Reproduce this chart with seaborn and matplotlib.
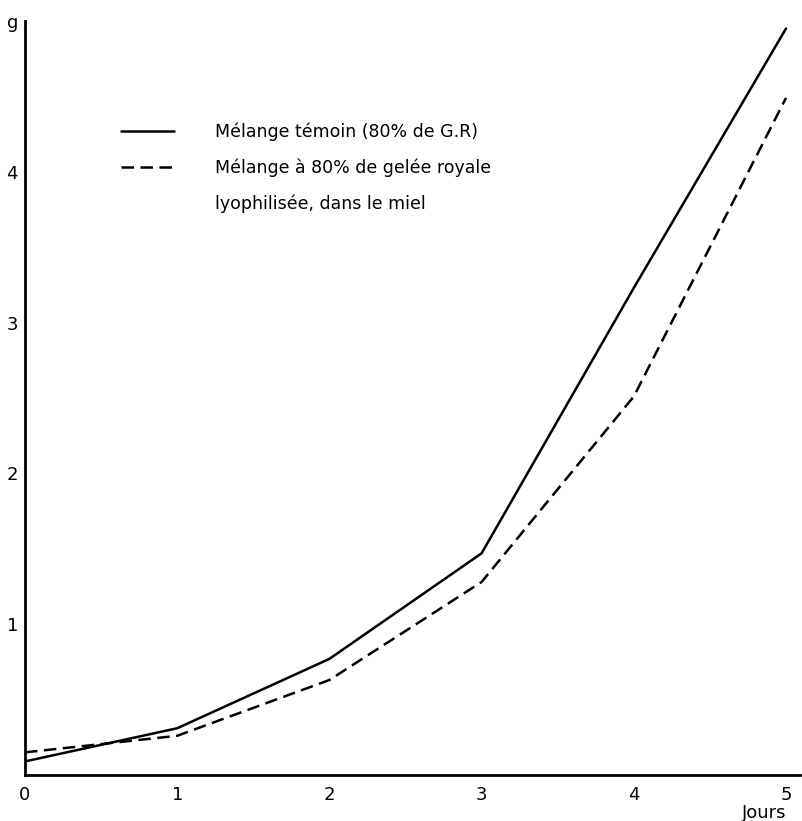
import matplotlib
matplotlib.use("Agg")
import matplotlib.pyplot as plt
from matplotlib.lines import Line2D
import seaborn as sns
import pandas as pd

# Data
jours = [0, 1, 2, 3, 4, 5]
temoin = [0.09, 0.31, 0.77, 1.47, 3.23, 4.95]
lyophilise = [0.15, 0.26, 0.63, 1.28, 2.51, 4.49]
serie_labels = ["Mélange témoin (80% de G.R)",
                "Mélange à 80% de gelée royale"]
legend_extra = "lyophilisée, dans le miel"
x_ticks = [0, 1, 2, 3, 4, 5]
y_ticks = [1, 2, 3, 4, 5]
y_ticklabels = ["1", "2", "3", "4", "g"]

df = pd.DataFrame({
    "jour": jours * 2,
    "g": temoin + lyophilise,
    "serie": [serie_labels[0]] * len(jours) + [serie_labels[1]] * len(jours),
})

sns.set_theme(style="white")
plt.rcParams["font.family"] = ["DejaVu Sans"]
plt.rcParams["text.color"] = "black"

fig = plt.figure(figsize=(8.02, 8.21), dpi=100)
ax = fig.add_axes([25 / 802, 46 / 821, 775 / 802, 754 / 821])

dash_map = {serie_labels[0]: "", serie_labels[1]: (5, 2.6)}
sns.lineplot(data=df, x="jour", y="g", style="serie", dashes=dash_map,
             color="black", linewidth=1.8, legend=False, ax=ax)

ax.set_xlim(0, 775 / 152.2)
ax.set_ylim(0, 5)
for s in ["top", "right"]:
    ax.spines[s].set_visible(False)
for s in ["left", "bottom"]:
    ax.spines[s].set_color("black")
    ax.spines[s].set_linewidth(2)

ax.set_xticks(x_ticks)
ax.set_xticklabels([str(t) for t in x_ticks])
ax.set_yticks(y_ticks)
ax.set_yticklabels(y_ticklabels)
ax.tick_params(axis="both", direction="inout", length=8, width=1.5,
               colors="black", labelsize=13, pad=3)
ax.tick_params(axis="x", pad=4)
ax.tick_params(axis="y", pad=1)
ax.set_xlabel("")
ax.set_ylabel("")
ax.text(5.0, -0.19, "Jours", ha="right", va="top", fontsize=13,
        color="black", transform=ax.transData, clip_on=False)

handles = [Line2D([], [], color="black", linewidth=1.8),
           Line2D([], [], color="black", linewidth=1.8, dashes=(5, 2.6)),
           Line2D([], [], color="none")]
labels = serie_labels + [legend_extra]
leg = ax.legend(handles, labels, frameon=False, loc="upper left",
                bbox_to_anchor=(80 / 775, 1 - 86 / 754), handlelength=3.1,
                handletextpad=2.35, labelspacing=1.0, fontsize=12.5)
for t in leg.get_texts():
    t.set_color("black")

fig.savefig("out.png", dpi=100)
